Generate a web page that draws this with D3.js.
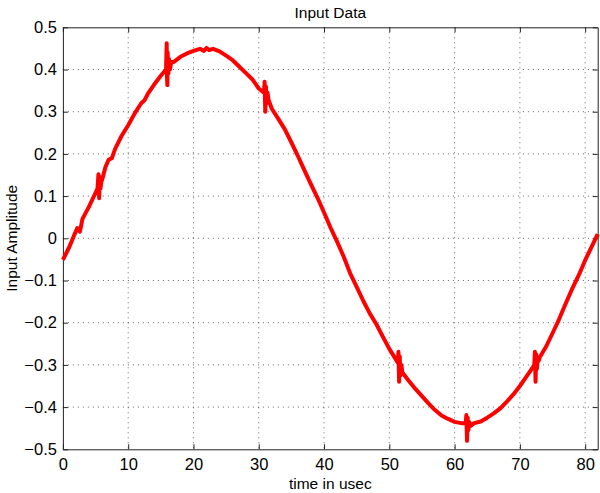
<!DOCTYPE html>
<html>
<head>
<meta charset="utf-8">
<script src="https://cdn.jsdelivr.net/npm/d3@7"></script>
<style>
  body { margin: 0; background: #fff; }
  text { font-family: "Liberation Sans", Arial, sans-serif; fill: #000; }
</style>
</head>
<body>
<svg id="chart" width="600" height="493"></svg>
<script>
// values (time in usec, amplitude)
var timeUs = [
  0, 1, 1.8, 2.2, 2.6, 3, 4, 5, 5.3, 5.45, 5.55, 5.65, 5.75, 5.9, 6, 6.5, 7, 7.5, 8, 9, 10,
  11, 12, 12.5, 13, 14, 15, 15.8, 15.9, 15.95, 16.0, 16.05, 16.15, 16.25, 16.4, 16.6, 17,
  18, 19, 20, 21, 21.6, 22, 22.4, 23, 24, 25, 26, 27, 28, 29, 30, 30.8, 30.9, 31.0,
  31.1, 31.2, 31.35, 31.5, 32, 33, 34, 35, 36, 37, 38, 39, 40, 41, 42, 43, 44, 45,
  46, 47, 48, 49, 50, 51, 51.3, 51.4, 51.5, 51.6, 51.7, 51.85, 52, 53, 54, 55, 56,
  57, 58, 59, 60, 61, 61.7, 61.8, 61.9, 62.0, 62.1, 62.25, 62.4, 63, 64, 65, 66, 67,
  68, 69, 70, 71, 72, 72.2, 72.3, 72.4, 72.5, 72.6, 72.75, 72.9, 73, 74, 75, 76, 77,
  78, 79, 80, 81, 81.92
];
var amplitude = [
  -0.051, -0.020, 0.010, 0.024, 0.016, 0.046, 0.075, 0.108, 0.118, 0.152, 0.095, 0.145, 0.118, 0.135, 0.138, 0.168, 0.186, 0.190, 0.212, 0.243, 0.268,
  0.296, 0.320, 0.327, 0.342, 0.365, 0.385, 0.400, 0.462, 0.380, 0.363, 0.440, 0.390, 0.425, 0.400, 0.418, 0.418,
  0.430, 0.438, 0.444, 0.449, 0.444, 0.451, 0.446, 0.449, 0.443, 0.433, 0.422, 0.407, 0.392, 0.377, 0.355, 0.345, 0.371, 0.300,
  0.360, 0.320, 0.345, 0.328, 0.307, 0.283, 0.258, 0.227, 0.195, 0.161, 0.128, 0.096, 0.061, 0.025, -0.008, -0.043, -0.083, -0.115,
  -0.148, -0.178, -0.203, -0.233, -0.262, -0.287, -0.295, -0.269, -0.340, -0.280, -0.325, -0.300, -0.318, -0.338, -0.357, -0.374, -0.391,
  -0.407, -0.420, -0.428, -0.435, -0.438, -0.438, -0.419, -0.480, -0.425, -0.455, -0.435, -0.445, -0.438, -0.434, -0.425, -0.415, -0.403,
  -0.387, -0.370, -0.350, -0.328, -0.305, -0.300, -0.269, -0.340, -0.275, -0.310, -0.285, -0.290, -0.283, -0.257, -0.225, -0.192, -0.155,
  -0.120, -0.088, -0.052, -0.020, 0.010
];
var xTicks = [0, 10, 20, 30, 40, 50, 60, 70, 80];
var yTicks = [-0.5, -0.4, -0.3, -0.2, -0.1, 0, 0.1, 0.2, 0.3, 0.4, 0.5];

var margin = {top: 27.3, right: 2.3, bottom: 43.7, left: 62.9};
var W = 600, H = 493;
var w = W - margin.left - margin.right, h = H - margin.top - margin.bottom;

var svg = d3.select("#chart");
var g = svg.append("g").attr("transform", "translate(" + margin.left + "," + margin.top + ")");

var x = d3.scaleLinear().domain([0, 81.92]).range([0, w]);
var y = d3.scaleLinear().domain([-0.5, 0.5]).range([h, 0]);

// dotted grid
g.selectAll("line.gx").data(xTicks.slice(1)).enter().append("line")
    .attr("class", "gx")
    .attr("x1", function(d) { return x(d); }).attr("x2", function(d) { return x(d); })
    .attr("y1", 0).attr("y2", h)
    .style("stroke", "#000").style("stroke-width", 1).style("stroke-dasharray", "1,4")
    .style("opacity", 0.6);
g.selectAll("line.gy").data(yTicks.slice(1, -1)).enter().append("line")
    .attr("class", "gy")
    .attr("y1", function(d) { return y(d); }).attr("y2", function(d) { return y(d); })
    .attr("x1", 0).attr("x2", w)
    .style("stroke", "#000").style("stroke-width", 1).style("stroke-dasharray", "1,4")
    .style("opacity", 0.6);

// axes with inward ticks, on all four sides
var fmtY = function(d) { return d3.format("")(d).replace("-", "\u2212"); };
var axB = g.append("g").attr("transform", "translate(0," + h + ")")
    .call(d3.axisBottom(x).tickValues(xTicks).tickSizeInner(-5).tickSizeOuter(0).tickPadding(9));
var axT = g.append("g")
    .call(d3.axisTop(x).tickValues(xTicks).tickSizeInner(-5).tickSizeOuter(0).tickFormat(""));
var axL = g.append("g")
    .call(d3.axisLeft(y).tickValues(yTicks).tickSizeInner(-5).tickSizeOuter(0).tickPadding(6).tickFormat(fmtY));
var axR = g.append("g").attr("transform", "translate(" + w + ",0)")
    .call(d3.axisRight(y).tickValues(yTicks).tickSizeInner(-5).tickSizeOuter(0).tickFormat(""));

[axB, axT, axL, axR].forEach(function(a) {
    a.select(".domain").style("stroke", "#222").style("stroke-width", 1);
    a.selectAll(".tick line").style("stroke", "#222");
    a.selectAll("text").style("font-size", "16.5px").style("font-family", "Liberation Sans, Arial, sans-serif").style("fill", "#000");
});

// signal
var pts = timeUs.map(function(t, i) { return [t, amplitude[i]]; });
g.append("path")
    .datum(pts)
    .attr("d", d3.line().x(function(d) { return x(d[0]); }).y(function(d) { return y(d[1]); }))
    .style("fill", "none").style("stroke", "#ff0000").style("stroke-width", 4)
    .style("stroke-linejoin", "round");

// labels
svg.append("text").attr("x", margin.left + w / 2).attr("y", 18)
    .attr("text-anchor", "middle").style("font-size", "15.5px").text("Input Data");
svg.append("text").attr("x", margin.left + w / 2).attr("y", 489)
    .attr("text-anchor", "middle").style("font-size", "15.5px").text("time in usec");
svg.append("text").attr("transform", "translate(17," + (margin.top + h / 2) + ") rotate(-90)")
    .attr("text-anchor", "middle").style("font-size", "15.5px").text("Input Amplitude");
</script>
</body>
</html>
